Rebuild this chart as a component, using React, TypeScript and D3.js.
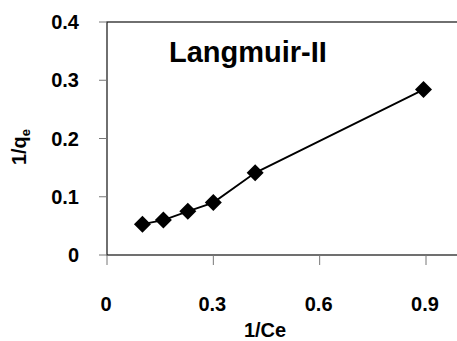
import React from "react";
import * as d3 from "d3";

const xValues = [0.1, 0.159, 0.228, 0.3, 0.418, 0.893];
const yValues = [0.053, 0.06, 0.075, 0.09, 0.141, 0.284];
const xTicks = [0, 0.3, 0.6, 0.9];
const yTicks = [0, 0.1, 0.2, 0.3, 0.4];
const xTickLabels = ["0", "0.3", "0.6", "0.9"];
const yTickLabels = ["0", "0.1", "0.2", "0.3", "0.4"];
const chartTitle = "Langmuir-II";

const W = 457;
const H = 341;
const left = 107;
const top = 22;
const bottom = 255;

export default function App() {
  const x = d3.scaleLinear().domain([0, 0.9]).range([left, 426]);
  const y = d3.scaleLinear().domain([0, 0.4]).range([bottom, top]);
  const right = x(1.0);
  const pts = xValues.map((v, i) => [v, yValues[i]] as [number, number]);
  const line = d3
    .line<[number, number]>()
    .x((d) => x(d[0]))
    .y((d) => y(d[1]));
  const font = "'Liberation Sans', Arial, sans-serif";
  const r = 8.5;
  return (
    <div style={{ position: "fixed", left: 0, top: 0 }}>
      <svg width={W} height={H} style={{ display: "block" }}>
        <rect x={0} y={0} width={W} height={H} fill="#fff" />
        <rect x={left} y={top} width={right - left} height={bottom - top} fill="none" stroke="#111" strokeWidth={1.2} />
        {yTicks.map((t, i) => (
          <g key={"y" + i}>
            <line x1={99} x2={left} y1={y(t)} y2={y(t)} stroke="#777" strokeWidth={1} />
            <text x={79} y={y(t)} dy="0.36em" textAnchor="end" fontFamily={font} fontWeight="bold" fontSize={20} fill="#000">
              {yTickLabels[i]}
            </text>
          </g>
        ))}
        {xTicks.map((t, i) => (
          <g key={"x" + i}>
            <line x1={x(t)} x2={x(t)} y1={bottom} y2={bottom + 10} stroke="#777" strokeWidth={1} />
            <text x={x(t) - 1} y={311} textAnchor="middle" fontFamily={font} fontWeight="bold" fontSize={20} fill="#000">
              {xTickLabels[i]}
            </text>
          </g>
        ))}
        <path d={line(pts) || ""} fill="none" stroke="#000" strokeWidth={1.8} />
        {pts.map((p, i) => {
          const cx = x(p[0]);
          const cy = y(p[1]);
          return (
            <path
              key={"p" + i}
              d={`M${cx},${cy - r}L${cx + r},${cy}L${cx},${cy + r}L${cx - r},${cy}Z`}
              fill="#000"
            />
          );
        })}
        <text x={169} y={62} fontFamily={font} fontWeight="bold" fontSize={29} fill="#000">
          {chartTitle}
        </text>
        <text x={265} y={337} textAnchor="middle" fontFamily={font} fontWeight="bold" fontSize={20} fill="#000">
          1/Ce
        </text>
        <text
          transform={`translate(26,147) rotate(-90)`}
          textAnchor="middle"
          fontFamily={font}
          fontWeight="bold"
          fontSize={20}
          fill="#000"
        >
          1/q
          <tspan fontSize={13} dy="4">e</tspan>
        </text>
      </svg>
    </div>
  );
}
